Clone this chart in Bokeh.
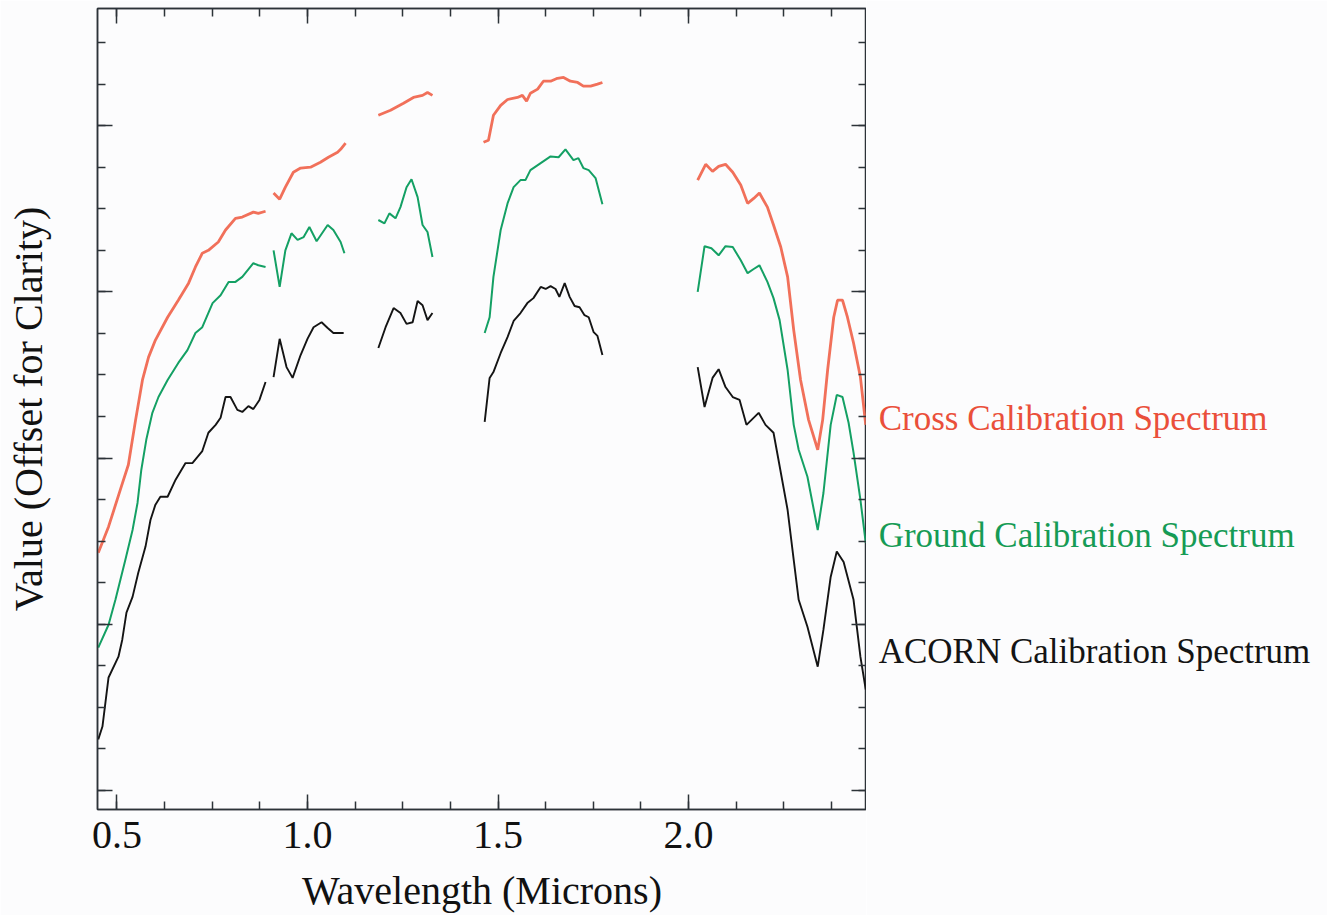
from bokeh.plotting import figure
from bokeh.models import Range1d, FixedTicker, LinearAxis, Label, CustomJSTickFormatter
from bokeh.layouts import row
from bokeh.embed import file_html
from bokeh.resources import INLINE

# ---- data: wavelength (microns) and offset values, one list per spectral window ----
cross_wl = [
    [0.451, 0.478, 0.509, 0.530, 0.549, 0.567, 0.583, 0.601, 0.633, 0.661, 0.688, 0.706,
     0.724, 0.740, 0.766, 0.785, 0.811, 0.829, 0.858, 0.871, 0.890],
    [0.911, 0.927, 0.942, 0.963, 0.982, 1.008, 1.034, 1.055, 1.079, 1.087, 1.100],
    [1.186, 1.218, 1.252, 1.278, 1.302, 1.315, 1.328],
    [1.462, 1.475, 1.488, 1.507, 1.525, 1.551, 1.564, 1.575, 1.585, 1.604, 1.619, 1.638,
     1.656, 1.672, 1.690, 1.709, 1.724, 1.743, 1.761, 1.774],
    [2.024, 2.045, 2.063, 2.079, 2.097, 2.116, 2.137, 2.155, 2.171, 2.186, 2.207, 2.223,
     2.242, 2.260, 2.276, 2.294, 2.315, 2.339, 2.352, 2.365, 2.381, 2.391, 2.404, 2.417,
     2.433, 2.451, 2.465],
]
cross_val = [
    [5.72, 6.35, 7.24, 7.84, 8.92, 9.88, 10.43, 10.84, 11.39, 11.80, 12.21, 12.60,
     12.93, 13.00, 13.20, 13.49, 13.77, 13.80, 13.92, 13.89, 13.94],
    [14.38, 14.23, 14.52, 14.88, 14.98, 15.00, 15.12, 15.24, 15.36, 15.43, 15.58],
    [16.25, 16.37, 16.54, 16.68, 16.73, 16.80, 16.73],
    [15.60, 15.65, 16.25, 16.49, 16.63, 16.68, 16.73, 16.59, 16.78, 16.88, 17.07, 17.07,
     17.14, 17.16, 17.07, 17.04, 16.95, 16.95, 17.00, 17.04],
    [14.69, 15.07, 14.90, 15.02, 15.07, 14.88, 14.57, 14.13, 14.25, 14.38, 14.04, 13.61,
     13.08, 12.36, 11.08, 9.88, 8.92, 8.20, 8.92, 10.12, 11.39, 11.80, 11.80, 11.39,
     10.77, 9.95, 8.80],
]

ground_wl = [
    [0.451, 0.478, 0.496, 0.522, 0.541, 0.554, 0.564, 0.577, 0.593, 0.609, 0.633, 0.661,
     0.685, 0.706, 0.724, 0.751, 0.772, 0.793, 0.811, 0.829, 0.858, 0.871, 0.890],
    [0.911, 0.927, 0.942, 0.958, 0.974, 0.990, 1.005, 1.024, 1.053, 1.068, 1.087, 1.097],
    [1.186, 1.202, 1.215, 1.231, 1.244, 1.260, 1.273, 1.289, 1.302, 1.315, 1.328],
    [1.465, 1.478, 1.488, 1.507, 1.525, 1.541, 1.559, 1.572, 1.585, 1.612, 1.638, 1.659,
     1.677, 1.698, 1.711, 1.724, 1.738, 1.756, 1.774],
    [2.024, 2.042, 2.060, 2.079, 2.097, 2.116, 2.137, 2.155, 2.171, 2.186, 2.207, 2.223,
     2.239, 2.260, 2.276, 2.289, 2.312, 2.339, 2.354, 2.373, 2.389, 2.404, 2.420, 2.433,
     2.451, 2.465],
]
ground_val = [
    [3.44, 3.99, 4.59, 5.55, 6.27, 6.92, 7.72, 8.44, 9.09, 9.47, 9.88, 10.29,
     10.60, 11.01, 11.15, 11.73, 11.92, 12.24, 12.24, 12.36, 12.69, 12.64, 12.60],
    [13.00, 12.12, 13.00, 13.41, 13.25, 13.32, 13.56, 13.22, 13.61, 13.49, 13.20, 12.93],
    [13.73, 13.65, 13.89, 13.77, 14.04, 14.52, 14.71, 14.28, 13.61, 13.44, 12.84],
    [11.01, 11.39, 12.36, 13.49, 14.13, 14.52, 14.69, 14.69, 14.93, 15.10, 15.26, 15.24,
     15.43, 15.17, 15.22, 14.98, 14.93, 14.74, 14.11],
    [12.00, 13.10, 13.05, 12.88, 13.10, 13.08, 12.76, 12.45, 12.55, 12.64, 12.24, 11.85,
     11.32, 10.12, 8.80, 8.20, 7.55, 6.27, 7.16, 8.80, 9.52, 9.47, 8.85, 8.13,
     7.00, 5.96],
]

acorn_wl = [
    [0.451, 0.462, 0.478, 0.504, 0.514, 0.525, 0.541, 0.556, 0.575, 0.588, 0.601, 0.614,
     0.633, 0.654, 0.680, 0.698, 0.724, 0.740, 0.759, 0.772, 0.785, 0.798, 0.816, 0.829,
     0.845, 0.858, 0.874, 0.890],
    [0.911, 0.927, 0.945, 0.961, 0.982, 1.000, 1.016, 1.037, 1.053, 1.068, 1.095],
    [1.186, 1.205, 1.226, 1.244, 1.260, 1.276, 1.289, 1.302, 1.315, 1.328],
    [1.465, 1.478, 1.488, 1.507, 1.525, 1.541, 1.559, 1.577, 1.593, 1.612, 1.625, 1.638,
     1.651, 1.661, 1.675, 1.688, 1.701, 1.714, 1.727, 1.738, 1.751, 1.761, 1.774],
    [2.024, 2.042, 2.063, 2.079, 2.097, 2.116, 2.134, 2.152, 2.184, 2.202, 2.223, 2.236,
     2.260, 2.276, 2.289, 2.312, 2.339, 2.354, 2.373, 2.389, 2.407, 2.433, 2.451, 2.465],
]
acorn_val = [
    [1.23, 1.54, 2.72, 3.22, 3.63, 4.28, 4.66, 5.24, 5.87, 6.51, 6.88, 7.07,
     7.07, 7.48, 7.88, 7.88, 8.17, 8.61, 8.80, 8.97, 9.47, 9.47, 9.16, 9.11,
     9.25, 9.18, 9.40, 9.83],
    [9.95, 10.87, 10.19, 9.93, 10.48, 10.87, 11.15, 11.27, 11.13, 11.01, 11.01],
    [10.65, 11.15, 11.61, 11.49, 11.23, 11.27, 11.78, 11.68, 11.32, 11.49],
    [8.87, 9.93, 10.07, 10.53, 10.91, 11.30, 11.49, 11.73, 11.85, 12.12, 12.07, 12.14,
     12.07, 11.88, 12.21, 11.88, 11.66, 11.63, 11.44, 11.39, 11.03, 10.94, 10.48],
    [10.19, 9.23, 9.93, 10.14, 9.71, 9.47, 9.40, 8.80, 9.09, 8.80, 8.61, 7.96,
     6.75, 5.55, 4.59, 3.94, 2.98, 3.87, 5.14, 5.75, 5.50, 4.59, 3.22, 2.43],
]

x_major = [0.5, 1.0, 1.5, 2.0]
x_minor = [0.5 + 0.125 * i for i in range(16)]
x_labels = {0.5: "0.5", 1.0: "1.0", 1.5: "1.5", 2.0: "2.0"}
y_major = [0, 4, 8, 12, 16]
y_minor = list(range(0, 19))

series_names = ["Cross Calibration Spectrum", "Ground Calibration Spectrum", "ACORN Calibration Spectrum"]
label_y = [8.96, 6.13, 3.34]

# ---- styling ----
SERIF = "Liberation Serif"
BG = "#fcfcfd"
AX = "#2c3338"
RED_LINE = "#f1705a"
RED_TEXT = "#ea4f3a"
GREEN_LINE = "#14a064"
GREEN_TEXT = "#169b55"
BLACK = "#141414"

H = 915
TOP = 8
BOTTOM = 105
X0, X1 = 0.449, 2.467
yr = Range1d(-0.457, 18.82)

p = figure(width=866, height=H, output_backend="svg", toolbar_location=None,
           x_range=Range1d(X0, X1), y_range=yr,
           min_border_left=97, min_border_right=0, min_border_top=TOP, min_border_bottom=0,
           background_fill_color=BG, border_fill_color=BG)
p.grid.visible = False
p.outline_line_color = AX
p.outline_line_width = 1.5

p.multi_line(cross_wl, cross_val, line_color=RED_LINE, line_width=2.8)
p.multi_line(ground_wl, ground_val, line_color=GREEN_LINE, line_width=2.0)
p.multi_line(acorn_wl, acorn_val, line_color=BLACK, line_width=1.9)

xt = FixedTicker(ticks=x_major, minor_ticks=x_minor)
yt = FixedTicker(ticks=y_major, minor_ticks=y_minor)
blank = CustomJSTickFormatter(code="return ''")


def style(ax, labels):
    ax.axis_line_color = AX
    ax.axis_line_width = 1.5
    ax.major_tick_line_color = AX
    ax.minor_tick_line_color = AX
    ax.major_tick_line_width = 1.5
    ax.minor_tick_line_width = 1.5
    ax.major_tick_in = 15
    ax.major_tick_out = 0
    ax.minor_tick_in = 8
    ax.minor_tick_out = 0
    if not labels:
        ax.formatter = blank
        ax.major_label_standoff = 0


xa = p.xaxis[0]
xa.ticker = xt
xa.major_label_overrides = x_labels
style(xa, True)
xa.major_label_text_font = SERIF
xa.major_label_text_font_size = "40px"
xa.major_label_text_color = "#111111"
xa.major_label_standoff = 12
xa.axis_label = "Wavelength (Microns)"
xa.axis_label_text_font = SERIF
xa.axis_label_text_font_size = "40px"
xa.axis_label_text_font_style = "normal"
xa.axis_label_text_color = "#111111"
xa.axis_label_standoff = 17

ya = p.yaxis[0]
ya.ticker = yt
style(ya, False)
ya.axis_label = "Value (Offset for Clarity)"
ya.axis_label_text_font = SERIF
ya.axis_label_text_font_size = "40px"
ya.axis_label_text_font_style = "normal"
ya.axis_label_text_color = "#111111"
ya.axis_label_standoff = 47

top = LinearAxis(ticker=xt)
style(top, False)
p.add_layout(top, "above")
right = LinearAxis(ticker=yt)
style(right, False)
p.add_layout(right, "right")

# ---- side panel holding the series labels (continues the wavelength scale) ----
SIDE_W = 461
q = figure(width=SIDE_W, height=H, output_backend="svg", toolbar_location=None,
           x_range=Range1d(X1, X1 + SIDE_W / 381.0), y_range=yr,
           x_axis_type=None, y_axis_type=None,
           min_border_left=0, min_border_right=0, min_border_top=TOP, min_border_bottom=BOTTOM,
           background_fill_color=BG, border_fill_color=BG, outline_line_color=None)
q.grid.visible = False
label_colors = [RED_TEXT, GREEN_TEXT, BLACK]
for name, ly, col in zip(series_names, label_y, label_colors):
    q.add_layout(Label(x=2.499, y=ly, text=name, text_font=SERIF, text_font_size="35px",
                       text_color=col, text_baseline="alphabetic"))

layout = row(p, q, spacing=0)
open("out.html", "w").write(file_html(layout, INLINE))
